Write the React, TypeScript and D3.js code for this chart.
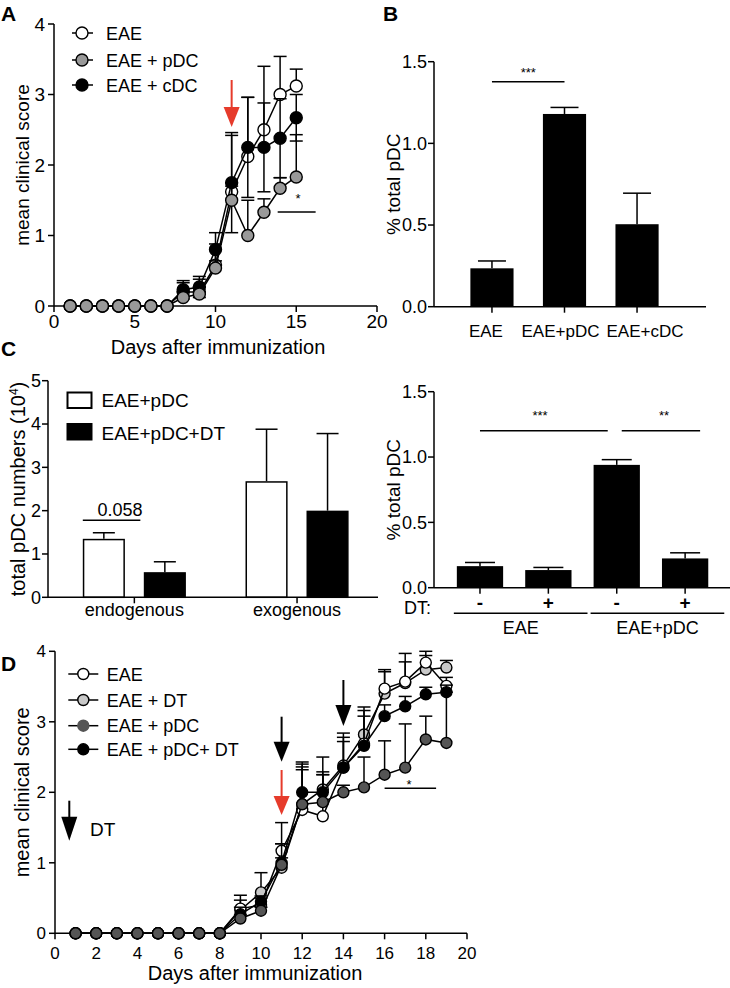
import React from "react";
import * as d3 from "d3";

const FONT = "'Liberation Sans', Arial, Helvetica, sans-serif";
const RED = "#e63b2b";

// ---------- Panel A ----------
const aDays = [1, 2, 3, 4, 5, 6, 7, 8, 9, 10, 11, 12, 13, 14, 15];
const aEAE = [0, 0, 0, 0, 0, 0, 0, 0.2, 0.2, 0.58, 1.62, 2.12, 2.5, 3.0, 3.12];
const aEAEerr = [0, 0, 0, 0, 0, 0, 0, 0.13, 0.18, 0.3, 0.8, 0.84, 0.9, 0.54, 0.24];
const aCDC = [0, 0, 0, 0, 0, 0, 0, 0.23, 0.27, 0.8, 1.75, 2.25, 2.25, 2.38, 2.67];
const aCDCerr = [0, 0, 0, 0, 0, 0, 0, 0.13, 0.15, 0.24, 0.71, 0.71, 0.63, 0.56, 0.33];
const aPDC = [0, 0, 0, 0, 0, 0, 0, 0.12, 0.17, 0.54, 1.5, 1.0, 1.33, 1.67, 1.83];
const aPDCerr = [0, 0, 0, 0, 0, 0, 0, 0.08, 0.1, 0.1, 0.2, 0.5, 0.19, 0.15, 0.6];
const aXTicks = [0, 5, 10, 15, 20];
const aYTicks = [0, 1, 2, 3, 4];
const aLegend = ["EAE", "EAE + pDC", "EAE + cDC"];

// ---------- Panel B ----------
const bCats = ["EAE", "EAE+pDC", "EAE+cDC"];
const bVals = [0.235, 1.18, 0.505];
const bErr = [0.045, 0.04, 0.19];
const bYTicks = [0, 0.5, 1.0, 1.5];

// ---------- Panel C left ----------
const cGroups = ["endogenous", "exogenous"];
const cSeries = ["EAE+pDC", "EAE+pDC+DT"];
const cVals = [
  [1.35, 0.58],
  [2.68, 2.0],
];
const cErr = [
  [0.14, 0.24],
  [1.2, 1.78],
];
const cYTicks = [0, 1, 2, 3, 4, 5];

// ---------- Panel C right ----------
const crDT = ["-", "+", "-", "+"];
const crGroup = ["EAE", "EAE", "EAE+pDC", "EAE+pDC"];
const crVals = [0.165, 0.135, 0.94, 0.224];
const crErr = [0.028, 0.02, 0.04, 0.043];
const crYTicks = [0, 0.5, 1.0, 1.5];

// ---------- Panel D ----------
const dDays = [1, 2, 3, 4, 5, 6, 7, 8, 9, 10, 11, 12, 13, 14, 15, 16, 17, 18, 19];
const dEAE = [0, 0, 0, 0, 0, 0, 0, 0, 0.35, 0.4, 1.17, 1.75, 1.66, 2.35, 2.69, 3.47, 3.57, 3.84, 3.51];
const dEAEerr = [0, 0, 0, 0, 0, 0, 0, 0, 0.19, 0.1, 0.4, 0.61, 0.59, 0.49, 0.52, 0.27, 0.4, 0.16, 0.12];
const dDT = [0, 0, 0, 0, 0, 0, 0, 0, 0.33, 0.58, 0.93, 1.83, 2.04, 2.38, 2.82, 3.4, 3.55, 3.74, 3.77];
const dDTerr = [0, 0, 0, 0, 0, 0, 0, 0, 0.14, 0.28, 0.34, 0.6, 0.46, 0.4, 0.34, 0.31, 0.3, 0.2, 0.1];
const dPDC = [0, 0, 0, 0, 0, 0, 0, 0, 0.21, 0.32, 0.97, 1.83, 1.86, 2.0, 2.07, 2.25, 2.35, 2.75, 2.7];
const dPDCerr = [0, 0, 0, 0, 0, 0, 0, 0, 0.05, 0.05, 0.1, 0.49, 0.43, 0.1, 0.43, 0.48, 0.62, 0.33, 0.72];
const dPDCDT = [0, 0, 0, 0, 0, 0, 0, 0, 0.27, 0.45, 1.0, 2.0, 2.0, 2.35, 2.66, 3.08, 3.22, 3.39, 3.42];
const dPDCDTerr = [0, 0, 0, 0, 0, 0, 0, 0, 0.1, 0.08, 0.27, 0.4, 0.25, 0.37, 0.42, 0.16, 0.14, 0.1, 0.1];
const dXTicks = [0, 2, 4, 6, 8, 10, 12, 14, 16, 18, 20];
const dYTicks = [0, 1, 2, 3, 4];
const dLegend = ["EAE", "EAE + DT", "EAE + pDC", "EAE + pDC+ DT"];

const SW = 1.5;

function Arrow({ x, y1, y2, color, head = 20, hw = 8 }: any) {
  return (
    <g>
      <line x1={x} x2={x} y1={y1} y2={y2 - head + 1} stroke={color} strokeWidth={2} />
      <path d={`M${x - hw},${y2 - head} L${x + hw},${y2 - head} L${x},${y2} Z`} fill={color} />
    </g>
  );
}

function LineSeries({ xs, ys, errs, both, x, y, fill, r, cap }: any) {
  const line = d3
    .line<number>()
    .x((_, i) => x(xs[i]))
    .y((d) => y(d));
  return (
    <g>
      {ys.map((v: number, i: number) =>
        errs[i] > 0 ? (
          <g key={i}>
            <line x1={x(xs[i])} x2={x(xs[i])} y1={y(both ? v - errs[i] : v)} y2={y(v + errs[i])} stroke="#000" strokeWidth={SW} />
            <line x1={x(xs[i]) - cap} x2={x(xs[i]) + cap} y1={y(v + errs[i])} y2={y(v + errs[i])} stroke="#000" strokeWidth={SW} />
            {both && (
              <line x1={x(xs[i]) - cap} x2={x(xs[i]) + cap} y1={y(v - errs[i])} y2={y(v - errs[i])} stroke="#000" strokeWidth={SW} />
            )}
          </g>
        ) : null
      )}
      <path d={line(ys) || ""} fill="none" stroke="#000" strokeWidth={SW} />
      {ys.map((v: number, i: number) => (
        <circle key={"c" + i} cx={x(xs[i])} cy={y(v)} r={r} fill={fill} stroke="#000" strokeWidth={1.4} />
      ))}
    </g>
  );
}

function PanelA() {
  const x = d3.scaleLinear().domain([0, 20]).range([54, 377]);
  const y = d3.scaleLinear().domain([0, 4]).range([306, 24]);
  const legendFills = ["#fff", "#999", "#000"];
  return (
    <g fontFamily={FONT}>
      <text x={1} y={21} fontSize={21} fontWeight="bold">A</text>
      <line x1={x(0)} x2={x(0)} y1={y(0)} y2={y(4)} stroke="#000" strokeWidth={SW} />
      <line x1={x(0)} x2={x(20)} y1={y(0)} y2={y(0)} stroke="#000" strokeWidth={SW} />
      {aYTicks.map((t) => (
        <g key={t}>
          <line x1={x(0) - 6} x2={x(0)} y1={y(t)} y2={y(t)} stroke="#000" strokeWidth={SW} />
          <text x={x(0) - 9} y={y(t)} dy="0.35em" textAnchor="end" fontSize={19}>{t}</text>
        </g>
      ))}
      {aXTicks.map((t) => (
        <g key={t}>
          <line x1={x(t)} x2={x(t)} y1={y(0)} y2={y(0) + 6} stroke="#000" strokeWidth={SW} />
          <text x={x(t)} y={328} textAnchor="middle" fontSize={19}>{t}</text>
        </g>
      ))}
      <text transform={`translate(29,${(y(0) + y(4)) / 2}) rotate(-90)`} textAnchor="middle" fontSize={19}>mean clinical score</text>
      <text x={218} y={354} textAnchor="middle" fontSize={20}>Days after immunization</text>
      <LineSeries xs={aDays} ys={aEAE} errs={aEAEerr} both={false} x={x} y={y} fill="#fff" r={6} cap={6.5} />
      <LineSeries xs={aDays} ys={aCDC} errs={aCDCerr} both={true} x={x} y={y} fill="#000" r={6} cap={6.5} />
      <LineSeries xs={aDays} ys={aPDC} errs={aPDCerr} both={false} x={x} y={y} fill="#999" r={6} cap={6.5} />
      <Arrow x={x(11)} y1={80} y2={127} color={RED} head={20} hw={8} />
      <line x1={x(13.85)} x2={x(16.2)} y1={212} y2={212} stroke="#000" strokeWidth={SW} />
      <text x={298} y={203} textAnchor="middle" fontSize={13}>*</text>
      {aLegend.map((s, i) => {
        const cy = [33, 60, 85][i];
        return (
          <g key={s}>
            <line x1={72} x2={93} y1={cy} y2={cy} stroke="#000" strokeWidth={SW} />
            <circle cx={82} cy={cy} r={6} fill={legendFills[i]} stroke="#000" strokeWidth={1.4} />
            <text x={106} y={cy + 6.5} fontSize={18}>{s}</text>
          </g>
        );
      })}
    </g>
  );
}

function PanelB() {
  const x = d3.scaleBand<string>().domain(bCats).range([441, 688]).padding(0.405);
  const y = d3.scaleLinear().domain([0, 1.5]).range([306.7, 61.7]);
  const bw = x.bandwidth();
  const cx = (c: string) => (x(c) as number) + bw / 2;
  const labelShift = [-6, -4, 8];
  return (
    <g fontFamily={FONT}>
      <text x={383} y={21} fontSize={21} fontWeight="bold">B</text>
      {bCats.map((c, i) => (
        <g key={c}>
          <line x1={cx(c)} x2={cx(c)} y1={y(bVals[i])} y2={y(bVals[i] + bErr[i])} stroke="#000" strokeWidth={SW} />
          <line x1={cx(c) - 14} x2={cx(c) + 14} y1={y(bVals[i] + bErr[i])} y2={y(bVals[i] + bErr[i])} stroke="#000" strokeWidth={SW} />
          <rect x={x(c)} y={y(bVals[i])} width={bw} height={y(0) - y(bVals[i])} fill="#000" />
          <line x1={cx(c)} x2={cx(c)} y1={y(0)} y2={y(0) + 6} stroke="#000" strokeWidth={SW} />
          <text x={cx(c) + labelShift[i]} y={337} textAnchor="middle" fontSize={17}>{c}</text>
        </g>
      ))}
      <line x1={434} x2={434} y1={y(0)} y2={y(1.5)} stroke="#000" strokeWidth={SW} />
      <line x1={434} x2={706} y1={y(0)} y2={y(0)} stroke="#000" strokeWidth={SW} />
      {bYTicks.map((t) => (
        <g key={t}>
          <line x1={428} x2={434} y1={y(t)} y2={y(t)} stroke="#000" strokeWidth={SW} />
          <text x={427} y={y(t)} dy="0.35em" textAnchor="end" fontSize={18}>{t.toFixed(1)}</text>
        </g>
      ))}
      <text transform={`translate(400,${(y(0) + y(1.5)) / 2}) rotate(-90)`} textAnchor="middle" fontSize={19}>% total pDC</text>
      <line x1={cx(bCats[0])} x2={cx(bCats[1])} y1={81.7} y2={81.7} stroke="#000" strokeWidth={SW} />
      <text x={(cx(bCats[0]) + cx(bCats[1])) / 2} y={77} textAnchor="middle" fontSize={13}>***</text>
    </g>
  );
}

function PanelCLeft() {
  const xg = d3.scaleBand<string>().domain(cGroups).range([53, 378.4]);
  const xi = d3.scaleBand<string>().domain(cSeries).range([0, 122]).paddingInner(0.31).paddingOuter(0.155);
  const y = d3.scaleLinear().domain([0, 5]).range([597.3, 380.7]);
  const gc = (g: string) => (xg(g) as number) + xg.bandwidth() / 2;
  const bw = xi.bandwidth();
  const fills = ["#fff", "#000"];
  return (
    <g fontFamily={FONT}>
      <text x={1} y={356} fontSize={21} fontWeight="bold">C</text>
      {cGroups.map((g, gi) =>
        cSeries.map((s, si) => {
          const bx = gc(g) - 61 + (xi(s) as number);
          const v = cVals[gi][si];
          const e = cErr[gi][si];
          return (
            <g key={g + s}>
              <line x1={bx + bw / 2} x2={bx + bw / 2} y1={y(v)} y2={y(v + e)} stroke="#000" strokeWidth={SW} />
              <line x1={bx + bw / 2 - 11} x2={bx + bw / 2 + 11} y1={y(v + e)} y2={y(v + e)} stroke="#000" strokeWidth={SW} />
              <rect x={bx + 0.75} y={y(v) + 0.75} width={bw - 1.5} height={y(0) - y(v) - 0.75} fill={fills[si]} stroke="#000" strokeWidth={1.5} />
            </g>
          );
        })
      )}
      <line x1={48} x2={48} y1={y(0)} y2={y(5)} stroke="#000" strokeWidth={SW} />
      <line x1={48} x2={378} y1={y(0)} y2={y(0)} stroke="#000" strokeWidth={SW} />
      {cYTicks.map((t) => (
        <g key={t}>
          <line x1={42} x2={48} y1={y(t)} y2={y(t)} stroke="#000" strokeWidth={SW} />
          <text x={41} y={y(t)} dy="0.35em" textAnchor="end" fontSize={18}>{t}</text>
        </g>
      ))}
      {cGroups.map((g) => (
        <g key={g}>
          <line x1={gc(g)} x2={gc(g)} y1={y(0)} y2={y(0) + 6} stroke="#000" strokeWidth={SW} />
          <text x={gc(g)} y={616} textAnchor="middle" fontSize={18}>{g}</text>
        </g>
      ))}
      <text transform={`translate(25,${(y(0) + y(5)) / 2}) rotate(-90)`} textAnchor="middle" fontSize={20}>
        total pDC numbers (10<tspan fontSize={12} dy={-7}>4</tspan><tspan dy={7}>)</tspan>
      </text>
      <line x1={gc(cGroups[0]) - 61 + (xi(cSeries[0]) as number)} x2={gc(cGroups[0]) + 6} y1={520.3} y2={520.3} stroke="#000" strokeWidth={SW} />
      <text x={120} y={516} textAnchor="middle" fontSize={18}>0.058</text>
      {cSeries.map((s, i) => (
        <g key={s}>
          <rect x={67.5} y={[392.5, 424][i]} width={24} height={15.5} fill={fills[i]} stroke="#000" strokeWidth={2} />
          <text x={101.5} y={[407, 440][i]} fontSize={19}>{s}</text>
        </g>
      ))}
    </g>
  );
}

function PanelCRight() {
  const idx = crVals.map((_, i) => String(i));
  const x = d3.scaleBand<string>().domain(idx).range([434.75, 730.35]).padding(0.323);
  const y = d3.scaleLinear().domain([0, 1.5]).range([587.7, 391.7]);
  const bw = x.bandwidth();
  const cx = (i: number) => (x(String(i)) as number) + bw / 2;
  const groups = Array.from(new Set(crGroup));
  return (
    <g fontFamily={FONT}>
      {crVals.map((v, i) => (
        <g key={i}>
          <line x1={cx(i)} x2={cx(i)} y1={y(v)} y2={y(v + crErr[i])} stroke="#000" strokeWidth={SW} />
          <line x1={cx(i) - 15} x2={cx(i) + 15} y1={y(v + crErr[i])} y2={y(v + crErr[i])} stroke="#000" strokeWidth={SW} />
          <rect x={x(String(i))} y={y(v)} width={bw} height={y(0) - y(v)} fill="#000" />
          <line x1={cx(i)} x2={cx(i)} y1={y(0)} y2={y(0) + 6} stroke="#000" strokeWidth={SW} />
          <text x={cx(i)} y={609} textAnchor="middle" fontSize={19} fontWeight="bold">{crDT[i]}</text>
        </g>
      ))}
      <line x1={434} x2={434} y1={y(0)} y2={y(1.5)} stroke="#000" strokeWidth={SW} />
      <line x1={434} x2={730} y1={y(0)} y2={y(0)} stroke="#000" strokeWidth={SW} />
      {crYTicks.map((t) => (
        <g key={t}>
          <line x1={428} x2={434} y1={y(t)} y2={y(t)} stroke="#000" strokeWidth={SW} />
          <text x={427} y={y(t)} dy="0.35em" textAnchor="end" fontSize={18}>{t.toFixed(1)}</text>
        </g>
      ))}
      <text x={404} y={614} fontSize={18}>DT:</text>
      {groups.map((g) => {
        const ids = crGroup.map((gg, i) => (gg === g ? i : -1)).filter((i) => i >= 0);
        const x1 = (x(String(ids[0])) as number) - 3;
        const x2 = Math.min(730, (x(String(ids[ids.length - 1])) as number) + bw + 16);
        return (
          <g key={g}>
            <line x1={x1} x2={x2} y1={613.3} y2={613.3} stroke="#000" strokeWidth={SW} />
            <text x={(x1 + x2) / 2} y={634} textAnchor="middle" fontSize={18}>{g}</text>
          </g>
        );
      })}
      <text transform={`translate(400,${(y(0) + y(1.5)) / 2}) rotate(-90)`} textAnchor="middle" fontSize={19}>% total pDC</text>
      <line x1={cx(0)} x2={cx(2) - 9} y1={430.7} y2={430.7} stroke="#000" strokeWidth={SW} />
      <text x={540} y={420} textAnchor="middle" fontSize={13}>***</text>
      <line x1={cx(2) + 5} x2={cx(3) + 15} y1={430.7} y2={430.7} stroke="#000" strokeWidth={SW} />
      <text x={664} y={420} textAnchor="middle" fontSize={13}>**</text>
    </g>
  );
}

function PanelD() {
  const x = d3.scaleLinear().domain([0, 20]).range([55, 467]);
  const y = d3.scaleLinear().domain([0, 4]).range([933.3, 651.3]);
  const legendFills = ["#fff", "#c8c8c8", "#555", "#000"];
  const legendStroke = ["#000", "#000", "#555", "#000"];
  return (
    <g fontFamily={FONT}>
      <text x={1} y={671} fontSize={21} fontWeight="bold">D</text>
      <line x1={x(0)} x2={x(0)} y1={y(0)} y2={y(4)} stroke="#000" strokeWidth={SW} />
      <line x1={x(0)} x2={x(20)} y1={y(0)} y2={y(0)} stroke="#000" strokeWidth={SW} />
      {dYTicks.map((t) => (
        <g key={t}>
          <line x1={x(0) - 6} x2={x(0)} y1={y(t)} y2={y(t)} stroke="#000" strokeWidth={SW} />
          <text x={x(0) - 9} y={y(t)} dy="0.35em" textAnchor="end" fontSize={17}>{t}</text>
        </g>
      ))}
      {dXTicks.map((t) => (
        <g key={t}>
          <line x1={x(t)} x2={x(t)} y1={y(0)} y2={y(0) + 6} stroke="#000" strokeWidth={SW} />
          <text x={x(t)} y={959} textAnchor="middle" fontSize={17}>{t}</text>
        </g>
      ))}
      <text transform={`translate(29,${(y(0) + y(4)) / 2}) rotate(-90)`} textAnchor="middle" fontSize={20}>mean clinical score</text>
      <text x={255} y={980} textAnchor="middle" fontSize={20}>Days after immunization</text>
      <LineSeries xs={dDays} ys={dDT} errs={dDTerr} both={false} x={x} y={y} fill="#c8c8c8" r={5.5} cap={6.5} />
      <LineSeries xs={dDays} ys={dEAE} errs={dEAEerr} both={false} x={x} y={y} fill="#fff" r={5.5} cap={6.5} />
      <LineSeries xs={dDays} ys={dPDCDT} errs={dPDCDTerr} both={false} x={x} y={y} fill="#000" r={5.5} cap={6.5} />
      <LineSeries xs={dDays} ys={dPDC} errs={dPDCerr} both={false} x={x} y={y} fill="#555" r={5.5} cap={6.5} />
      <Arrow x={x(11)} y1={770} y2={815} color={RED} head={19} hw={8} />
      <Arrow x={x(11)} y1={716.7} y2={761.7} color="#000" head={20} hw={8} />
      <Arrow x={x(14)} y1={680} y2={726} color="#000" head={21} hw={8} />
      <Arrow x={69.3} y1={800.7} y2={840.7} color="#000" head={24} hw={8} />
      <text x={90} y={836} fontSize={19}>DT</text>
      <line x1={x(16)} x2={x(18.5)} y1={788.3} y2={788.3} stroke="#000" strokeWidth={SW} />
      <text x={409} y={789} textAnchor="middle" fontSize={13}>*</text>
      {dLegend.map((s, i) => {
        const cy = [674, 700, 725.7, 749.3][i];
        return (
          <g key={s}>
            <line x1={68.3} x2={98.3} y1={cy} y2={cy} stroke="#000" strokeWidth={SW} />
            <circle cx={83.3} cy={cy} r={5.5} fill={legendFills[i]} stroke={legendStroke[i]} strokeWidth={1.4} />
            <text x={106.7} y={cy + 6.5} fontSize={18}>{s}</text>
          </g>
        );
      })}
    </g>
  );
}

export default function App() {
  return (
    <svg
      width={730}
      height={988}
      viewBox="0 0 730 988"
      style={{ position: "absolute", left: 0, top: 0, background: "#fff", display: "block" }}
    >
      <rect width={730} height={988} fill="#fff" />
      <PanelA />
      <PanelB />
      <PanelCLeft />
      <PanelCRight />
      <PanelD />
    </svg>
  );
}
